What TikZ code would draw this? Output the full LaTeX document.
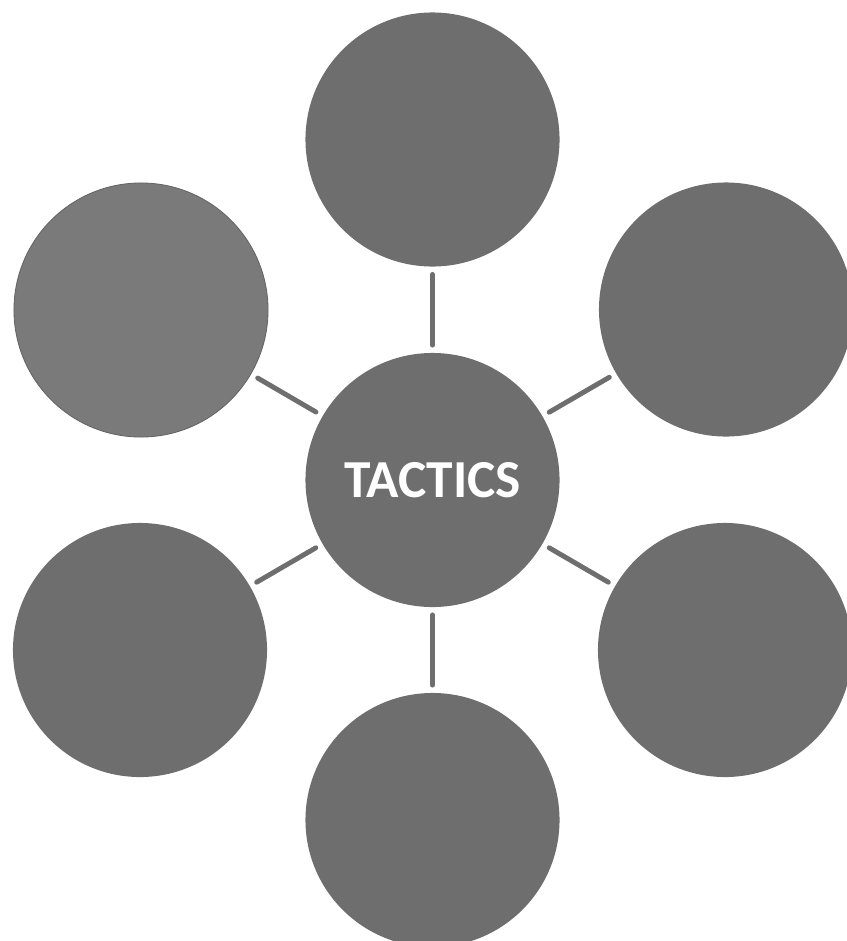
\documentclass[tikz,border=0pt]{standalone}
\usepackage{fontspec}
\setmainfont{Carlito}
\definecolor{bubblegray}{HTML}{6E6E6E}
\definecolor{palegray}{HTML}{7A7A7A}
\definecolor{rimgray}{HTML}{646464}
\tikzset{
  bubble/.style={circle, fill=bubblegray, minimum size=6.35cm, inner sep=0pt},
  palebubble/.style={bubble, fill=palegray, draw=rimgray, line width=0.6pt},
  link/.style={line width=3.5pt, bubblegray, line cap=round, shorten <=0.19cm, shorten >=0.19cm}
}
\begin{document}
\begin{tikzpicture}[x=0.025cm, y=-0.025cm]
    % 1. Page frame
    \clip (0,0) rectangle (847,941);

    % 2. Hub and the six bubbles around it
    \node[bubble, text=white, font=\bfseries\fontsize{38}{38}\selectfont] (hub) at (432.5,480) {TACTICS};
    \node[bubble] (top) at (432.5,139.5) {};
    \node[bubble] (upright) at (726,309.5) {};
    \node[bubble] (lowright) at (725,650) {};
    \node[bubble] (bottom) at (432.5,820) {};
    \node[bubble] (lowleft) at (140,650) {};
    \node[palebubble] (upleft) at (141,310) {};

    % 3. Spokes
    \foreach \n in {top, upright, lowright, bottom, lowleft, upleft}
        \draw[link] (hub) -- (\n);
\end{tikzpicture}
\end{document}
